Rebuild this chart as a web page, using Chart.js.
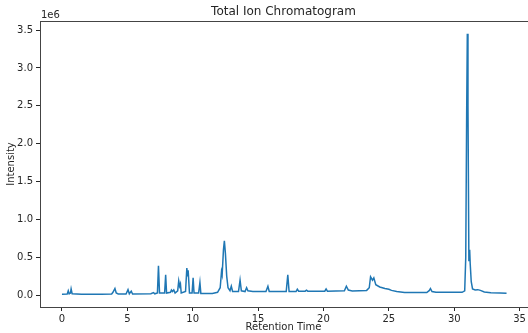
<!DOCTYPE html>
<html>
<head>
<meta charset="utf-8">
<script src="https://cdn.jsdelivr.net/npm/chart.js@4/dist/chart.umd.min.js"></script>
<style>
  html, body { margin: 0; padding: 0; background: #fff; }
  #wrap { width: 528px; height: 333px; }
</style>
</head>
<body>
<div id="wrap"><canvas id="ticChart" width="528" height="333"></canvas></div>
<script>
// Retention time (min) and intensity (x1e6)
const retentionTime = [
  0.0, 0.4, 0.48, 0.55, 0.65, 0.7, 0.78, 1.5, 3.0, 3.8, 3.9, 4.05, 4.15, 4.3,
  4.9, 5.05, 5.15, 5.3, 5.4, 6.8, 7.0, 7.1, 7.3, 7.38, 7.46, 7.85, 7.93, 8.0,
  8.3, 8.37, 8.45, 8.55, 8.65, 8.85, 8.93, 9.0, 9.06, 9.12, 9.45, 9.55, 9.6,
  9.65, 9.75, 9.95, 10.03, 10.1, 10.45, 10.55, 10.62, 11.5, 11.9, 12.1, 12.2,
  12.25, 12.35, 12.42, 12.5, 12.6, 12.7, 12.85, 12.95, 13.05, 13.5, 13.62,
  13.72, 14.0, 14.12, 14.22, 14.6, 15.6, 15.75, 15.85, 17.15, 17.27, 17.37,
  17.9, 18.0, 18.1, 18.6, 18.7, 18.8, 20.1, 20.2, 20.3, 21.6, 21.75, 21.9,
  22.2, 23.3, 23.5, 23.6, 23.75, 23.85, 24.0, 24.3, 24.7, 25.0, 25.2, 25.6,
  26.2, 27.9, 28.1, 28.18, 28.3, 28.6, 30.6, 30.8, 30.88, 30.95, 31.0, 31.05,
  31.12, 31.18, 31.22, 31.3, 31.4, 31.6, 31.8, 32.0, 32.3, 32.8, 33.5, 34.0
];
const intensity = [
  0.015, 0.016, 0.06, 0.02, 0.03, 0.085, 0.02, 0.014, 0.015, 0.018, 0.04, 0.09, 0.03, 0.018,
  0.018, 0.075, 0.02, 0.055, 0.018, 0.02, 0.035, 0.02, 0.03, 0.39, 0.03, 0.03, 0.27, 0.03,
  0.04, 0.07, 0.05, 0.07, 0.03, 0.06, 0.19, 0.12, 0.15, 0.03, 0.05, 0.36, 0.25,
  0.33, 0.03, 0.03, 0.23, 0.03, 0.03, 0.17, 0.025, 0.025, 0.04, 0.1, 0.31,
  0.27, 0.6, 0.72, 0.55, 0.25, 0.1, 0.06, 0.12, 0.05, 0.05, 0.2,
  0.06, 0.05, 0.1, 0.06, 0.05, 0.05, 0.12, 0.05, 0.05, 0.27, 0.05,
  0.05, 0.08, 0.055, 0.055, 0.068, 0.055, 0.055, 0.085, 0.055, 0.06, 0.12, 0.07,
  0.058, 0.065, 0.1, 0.245, 0.2, 0.23, 0.14, 0.11, 0.09, 0.08, 0.065, 0.05,
  0.038, 0.037, 0.065, 0.09, 0.05, 0.04, 0.04, 0.06, 0.5, 2.4, 3.45, 2.5,
  0.45, 0.6, 0.42, 0.18, 0.085, 0.07, 0.075, 0.065, 0.045, 0.035, 0.03, 0.028
];
const xTicks = [0, 5, 10, 15, 20, 25, 30, 35];
const yTicks = [0.0, 0.5, 1.0, 1.5, 2.0, 2.5, 3.0, 3.5];

const FONT = 'DejaVu Sans';
const INK = '#262626';

// подписи как в matplotlib: заголовок, оси, множитель 1e6
const labelsPlugin = {
  id: 'mplLabels',
  afterDraw(chart) {
    const c = chart.ctx;
    const a = chart.chartArea;
    c.save();
    c.fillStyle = INK;
    c.textAlign = 'center';
    c.textBaseline = 'middle';
    c.font = '12px "' + FONT + '"';
    c.fillText('Total Ion Chromatogram', (a.left + 527) / 2, 12);
    c.font = '10px "' + FONT + '"';
    c.fillText('Retention Time', (a.left + 527) / 2, 327);
    c.textAlign = 'left';
    c.fillText('1e6', a.left + 1, 15);
    c.translate(11, (a.top + a.bottom) / 2);
    c.rotate(-Math.PI / 2);
    c.textAlign = 'center';
    c.fillText('Intensity', 0, 0);
    c.restore();
  }
};

const ctx = document.getElementById('ticChart').getContext('2d');
const ticChart = new Chart(ctx, {
  type: 'line',
  data: {
    datasets: [{
      label: 'TIC',
      data: retentionTime.map((t, i) => ({ x: t, y: intensity[i] })),
      borderColor: '#1f77b4',
      borderWidth: 1.5,
      pointRadius: 0,
      fill: false,
      tension: 0
    }]
  },
  options: {
    responsive: false,
    animation: false,
    layout: { padding: { top: 21, right: 0, left: 0, bottom: 0 } },
    plugins: { legend: { display: false }, tooltip: { enabled: false } },
    scales: {
      x: {
        type: 'linear',
        min: -1.68,
        max: 35.57,
        afterFit: s => { s.height = 26; },
        afterBuildTicks: s => { s.ticks = xTicks.map(v => ({ value: v })); },
        grid: { drawOnChartArea: false, tickLength: 4, color: INK },
        border: { color: '#444', width: 1 },
        ticks: { color: INK, font: { family: FONT, size: 10 }, padding: 2, maxRotation: 0,
                 callback: v => String(v) }
      },
      top: {
        type: 'linear',
        position: 'top',
        min: -1.68,
        max: 35.57,
        afterFit: s => { s.height = 0; },
        grid: { display: false },
        border: { color: '#444', width: 1 },
        ticks: { display: false }
      },
      y: {
        min: -0.154,
        max: 3.619,
        afterFit: s => { s.width = 40; },
        afterBuildTicks: s => { s.ticks = yTicks.map(v => ({ value: v })); },
        grid: { drawOnChartArea: false, tickLength: 4, color: INK },
        border: { color: '#444', width: 1 },
        ticks: { color: INK, font: { family: FONT, size: 10 }, padding: 3,
                 callback: v => v.toFixed(1) }
      }
    }
  },
  plugins: [labelsPlugin]
});
</script>
</body>
</html>
